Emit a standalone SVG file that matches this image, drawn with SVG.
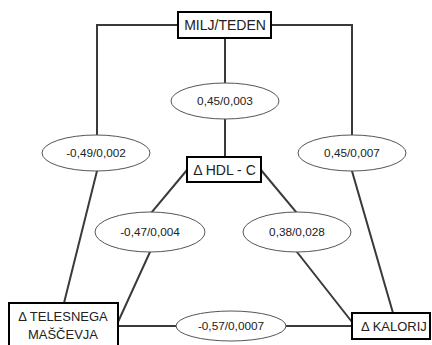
<svg xmlns="http://www.w3.org/2000/svg" width="432" height="345" viewBox="0 0 432 345">
<style>
.c{fill:none;stroke:#3a3a3a;stroke-width:2}
.b{fill:#fff;stroke:#000;stroke-width:2}
.e{fill:#fff;stroke:#555;stroke-width:1}
text{font-family:"Liberation Sans",Arial,sans-serif;fill:#222;text-anchor:middle}
.t{font-size:14px}
.s{font-size:13px}
.n{font-size:11.8px}
</style>
<rect width="432" height="345" fill="#fff"/>
<g id="connectors">
<path class="c" d="M178 25 H97 V171 L64 303"/>
<path class="c" d="M271 25 H352 V171 L393 313"/>
<path class="c" d="M225 38 V157"/>
<path class="c" d="M187 170 L151 213 L150 252 L118 322"/>
<path class="c" d="M261 170 L297 213 L297 252 L352 322"/>
<path class="c" d="M118 326 H352"/>
</g>
<g id="e1"><ellipse class="e" cx="225" cy="101" rx="54" ry="18"/><text class="n" x="225" y="105">0,45/0,003</text></g>
<g id="e2"><ellipse class="e" cx="96" cy="153" rx="54" ry="18"/><text class="n" x="96" y="157">-0,49/0,002</text></g>
<g id="e3"><ellipse class="e" cx="352" cy="153" rx="54" ry="18"/><text class="n" x="352" y="157">0,45/0,007</text></g>
<g id="e4"><ellipse class="e" cx="150" cy="232" rx="55" ry="20"/><text class="n" x="150" y="236">-0,47/0,004</text></g>
<g id="e5"><ellipse class="e" cx="297" cy="232" rx="54" ry="20"/><text class="n" x="297" y="236">0,38/0,028</text></g>
<g id="e6"><ellipse class="e" cx="231" cy="326" rx="55" ry="15"/><text class="n" x="231" y="330">-0,57/0,0007</text></g>
<g id="milj"><rect class="b" x="178" y="12" width="93" height="26"/><text class="t" x="225" y="30">MILJ/TEDEN</text></g>
<g id="hdl"><rect class="b" x="187" y="157" width="74" height="25"/><text class="t" x="224.5" y="174.5">Δ HDL - C</text></g>
<g id="telesnega"><rect class="b" x="9" y="303" width="109" height="45"/><text class="s" x="63" y="321">Δ TELESNEGA</text><text class="s" x="63" y="339">MAŠČEVJA</text></g>
<g id="kalorij"><rect class="b" x="352" y="313" width="78" height="26"/><text class="s" x="394" y="330.5">Δ KALORIJ</text></g>
</svg>
